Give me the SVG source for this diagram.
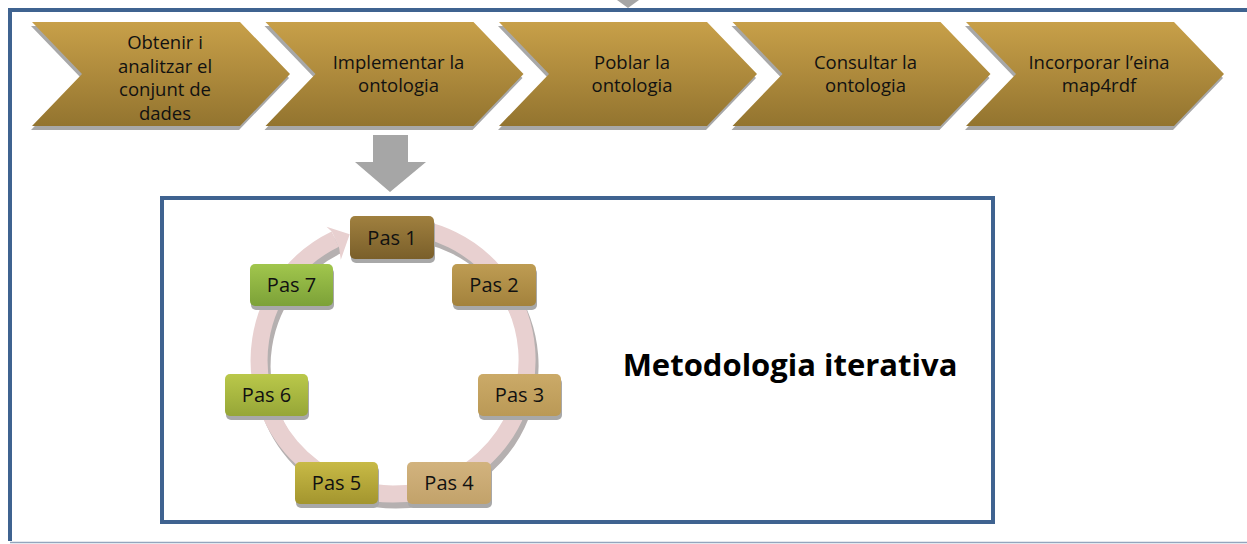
<svg xmlns="http://www.w3.org/2000/svg" width="1247" height="544" viewBox="0 0 1247 544">
<defs>
<linearGradient id="gold" x1="0" y1="0" x2="0" y2="1"><stop offset="0" stop-color="#C8A049"/><stop offset="1" stop-color="#93742F"/></linearGradient>
<linearGradient id="p1" x1="0" y1="0" x2="0" y2="1"><stop offset="0" stop-color="#A0803F"/><stop offset="1" stop-color="#7A5F2A"/></linearGradient>
<linearGradient id="p2" x1="0" y1="0" x2="0" y2="1"><stop offset="0" stop-color="#BE9C53"/><stop offset="1" stop-color="#A3823C"/></linearGradient>
<linearGradient id="p3" x1="0" y1="0" x2="0" y2="1"><stop offset="0" stop-color="#CBAA68"/><stop offset="1" stop-color="#BA9956"/></linearGradient>
<linearGradient id="p4" x1="0" y1="0" x2="0" y2="1"><stop offset="0" stop-color="#D2B37E"/><stop offset="1" stop-color="#C2A26A"/></linearGradient>
<linearGradient id="p5" x1="0" y1="0" x2="0" y2="1"><stop offset="0" stop-color="#C8BA46"/><stop offset="1" stop-color="#A3952E"/></linearGradient>
<linearGradient id="p6" x1="0" y1="0" x2="0" y2="1"><stop offset="0" stop-color="#BAC84A"/><stop offset="1" stop-color="#96A637"/></linearGradient>
<linearGradient id="p7" x1="0" y1="0" x2="0" y2="1"><stop offset="0" stop-color="#A1C64D"/><stop offset="1" stop-color="#7CA138"/></linearGradient>
<polygon id="chev" points="0,22 208,22 258,74 208,126 0,126 50,74"/>
</defs>
<style>
.frame{fill:none;stroke:#3F6390;stroke-width:4}
.shadow{fill:#A8A8A8}
.ctext{font-family:"Open Sans","Liberation Sans",sans-serif;font-size:18.5px;fill:#111;text-anchor:middle}
.ptext{font-family:"Open Sans","Liberation Sans",sans-serif;font-size:20px;fill:#111;text-anchor:middle}
.title{font-family:"Open Sans","Liberation Sans",sans-serif;font-size:31px;font-weight:bold;fill:#000;text-anchor:middle}
</style>
<rect width="1247" height="544" fill="#fff"/>
<!-- outer frame -->
<g id="outer-frame">
<path class="frame" d="M1250,10 H10 V541"/>
<line x1="10" y1="542.5" x2="1247" y2="542.5" stroke="#93A5BD" stroke-width="1.5"/>
<polygon points="617,0 639,0 628,8" fill="#A6A6A6"/>
</g>
<!-- chevrons -->
<g id="step1">
<use href="#chev" x="31" y="4" class="shadow"/>
<use href="#chev" x="32" fill="url(#gold)"/>
<text class="ctext" x="165" y="49">Obtenir i</text>
<text class="ctext" x="165" y="72.5">analitzar el</text>
<text class="ctext" x="165" y="96">conjunt de</text>
<text class="ctext" x="165" y="119.5">dades</text>
</g>
<g id="step2">
<use href="#chev" x="264.5" y="4" class="shadow"/>
<use href="#chev" x="265.5" fill="url(#gold)"/>
<text class="ctext" x="398.5" y="68.5">Implementar la</text>
<text class="ctext" x="398.5" y="92">ontologia</text>
</g>
<g id="step3">
<use href="#chev" x="498" y="4" class="shadow"/>
<use href="#chev" x="499" fill="url(#gold)"/>
<text class="ctext" x="632" y="68.5">Poblar la</text>
<text class="ctext" x="632" y="92">ontologia</text>
</g>
<g id="step4">
<use href="#chev" x="731.5" y="4" class="shadow"/>
<use href="#chev" x="732.5" fill="url(#gold)"/>
<text class="ctext" x="865.5" y="68.5">Consultar la</text>
<text class="ctext" x="865.5" y="92">ontologia</text>
</g>
<g id="step5">
<use href="#chev" x="965" y="4" class="shadow"/>
<use href="#chev" x="966" fill="url(#gold)"/>
<text class="ctext" x="1099" y="68.5">Incorporar l’eina</text>
<text class="ctext" x="1099" y="92">map4rdf</text>
</g>
<!-- connectors -->
<g id="connectors">
<polygon points="373,135 408,135 408,162 426,162 390,192 355,162 373,162" fill="#A6A6A6"/>
<path d="M395,229 A134,134 0 1 1 337.3,242.1" fill="none" stroke="#B5B0B0" stroke-width="17" transform="translate(1,3)"/>
<path d="M393,226 A134,134 0 1 1 335.3,239.1" fill="none" stroke="#E8D0D0" stroke-width="17"/>
<polygon points="331.7,231.4 326.5,226.7 349.7,234.2 340.8,259.8 339,246.7" fill="#E8D0D0"/>
</g>
<!-- inner box -->
<g id="iterative-box">
<rect x="162" y="198" width="831" height="324" class="frame"/>
<text class="title" x="790" y="376">Metodologia iterativa</text>
</g>
<!-- cycle steps -->
<g id="pas1"><rect x="351" y="220" width="84" height="43" rx="5" class="shadow"/><rect x="350" y="216" width="84" height="43" rx="5" fill="url(#p1)"/><text class="ptext" x="392" y="244.5">Pas 1</text></g>
<g id="pas2"><rect x="453" y="268" width="84" height="42" rx="5" class="shadow"/><rect x="452" y="264" width="84" height="42" rx="5" fill="url(#p2)"/><text class="ptext" x="494" y="292">Pas 2</text></g>
<g id="pas3"><rect x="479" y="378" width="83" height="42" rx="5" class="shadow"/><rect x="478" y="374" width="83" height="42" rx="5" fill="url(#p3)"/><text class="ptext" x="519.5" y="402">Pas 3</text></g>
<g id="pas4"><rect x="408" y="466" width="84" height="42" rx="5" class="shadow"/><rect x="407" y="462" width="84" height="42" rx="5" fill="url(#p4)"/><text class="ptext" x="449" y="490">Pas 4</text></g>
<g id="pas5"><rect x="296" y="466" width="83" height="42" rx="5" class="shadow"/><rect x="295" y="462" width="83" height="42" rx="5" fill="url(#p5)"/><text class="ptext" x="336.5" y="490">Pas 5</text></g>
<g id="pas6"><rect x="226" y="378" width="83" height="42" rx="5" class="shadow"/><rect x="225" y="374" width="83" height="42" rx="5" fill="url(#p6)"/><text class="ptext" x="266.5" y="402">Pas 6</text></g>
<g id="pas7"><rect x="251" y="268" width="83" height="42" rx="5" class="shadow"/><rect x="250" y="264" width="83" height="42" rx="5" fill="url(#p7)"/><text class="ptext" x="291.5" y="292">Pas 7</text></g>
</svg>
